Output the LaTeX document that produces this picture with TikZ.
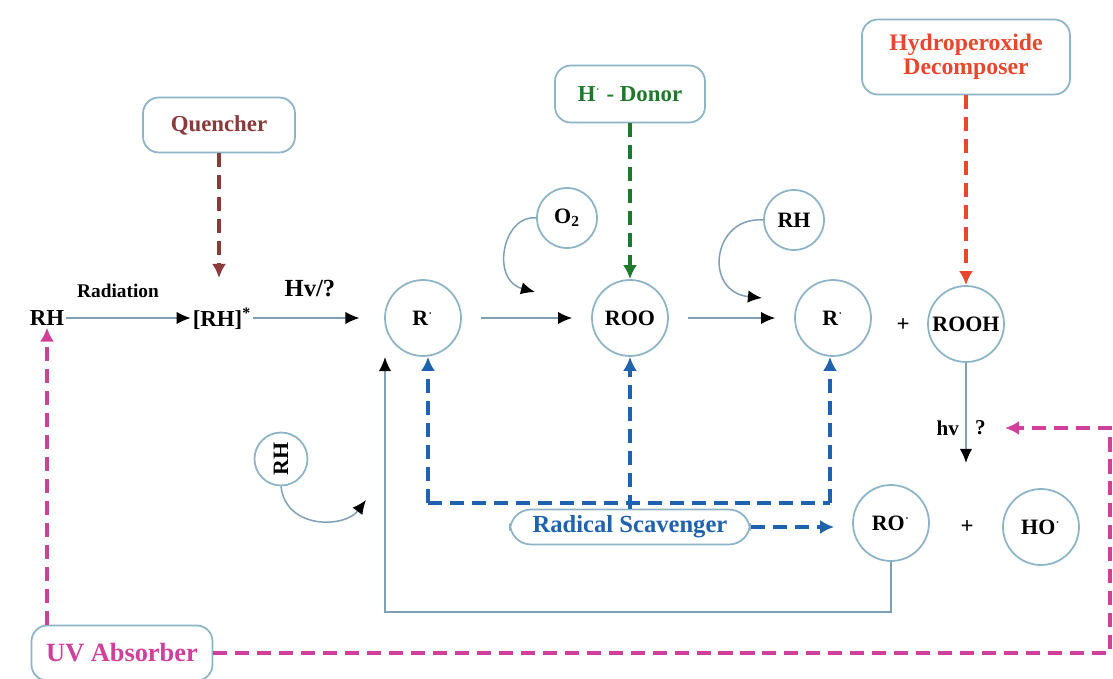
\documentclass[tikz,border=0pt]{standalone}
\usepackage{fontspec}
\setmainfont{Liberation Serif}
\usetikzlibrary{arrows.meta}
\definecolor{cercle}{HTML}{8DB3C7}
\definecolor{trait}{HTML}{7F9FB5}
\definecolor{brun}{HTML}{8A3A3A}
\definecolor{vert}{HTML}{1E7A2A}
\definecolor{rouge}{HTML}{E8472E}
\definecolor{bleu}{HTML}{1F62AE}
\definecolor{magenta}{HTML}{D0409A}
\newcommand{\rad}{\textsuperscript{$\cdot$}}
\newcommand{\taille}[1]{\fontsize{#1}{#1}\selectfont}

\begin{document}
\begin{tikzpicture}[x=0.02cm,y=-0.02cm,
	rond/.style={circle,draw=cercle,line width=1pt,minimum size=1.52cm,inner sep=0pt,font=\bfseries\taille{12.5}},
	petitrond/.style={rond,minimum size=1.2cm},
	boite/.style={draw=cercle,line width=1pt,rounded corners=9pt,inner sep=0pt,align=center,font=\bfseries\taille{13}},
	fleche/.style={draw=trait,line width=0.85pt,-{Latex[black,length=8pt,width=7pt]}},
	tirets/.style={line width=2pt,dash pattern=on 8pt off 4.5pt,-{Latex[length=8pt,width=8pt]}},
	texte/.style={font=\bfseries\taille{#1},inner sep=1pt}]
	\useasboundingbox (0,0) rectangle (1113,679);%cadre

	% especes chimiques
	\node[texte=13] (rh) at (47,318) {RH};
	\node[texte=13] (rhs) at (222,319) {[RH]\textsuperscript{*}};
	\node[rond] (r1) at (423,318) {R\rad};
	\node[rond] (roo) at (630,318) {ROO};
	\node[rond] (r2) at (833,318) {R\rad};
	\node[rond] (rooh) at (966,324) {ROOH};
	\node[petitrond] (o2) at (567,218) {O\textsubscript{2}};
	\node[petitrond] (rhh) at (794,220) {RH};
	\node[petitrond,minimum size=1.06cm,rotate=90] (rhb) at (281,459) {RH};
	\node[rond] (ro) at (891,523) {RO\rad};
	\node[rond] (ho) at (1041,527) {HO\rad};
	\node[texte=13] (plus1) at (903,325) {+};
	\node[texte=13] (plus2) at (967,527) {+};

	% etiquettes
	\node[texte=11] (radiation) at (118,291) {Radiation};
	\node[texte=14] (hv1) at (310,289) {Hv/?};
	\node[texte=12,anchor=east] (hv2) at (961,428) {hv};
	\node[texte=12,anchor=west] (qm) at (973,428) {?};

	% boites des additifs
	\node[boite,text=brun,minimum width=3.04cm,minimum height=1.1cm] (quencher) at (219,125) {Quencher};
	\node[boite,text=vert,minimum width=3cm,minimum height=1.14cm] (donor) at (630,94) {H\rad{} - Donor};
	\node[boite,text=rouge,minimum width=4.16cm,minimum height=1.5cm,font=\bfseries\taille{13.5}] (decomp) at (966,57) {Hydroperoxide\\Decomposer};
	\node[boite,text=bleu,minimum width=4.8cm,minimum height=0.7cm,rounded corners=12pt,font=\bfseries\taille{14}] (scav) at (630,527) {Radical Scavenger};
	\node[boite,text=magenta,minimum width=3.62cm,minimum height=1.1cm,font=\bfseries\taille{15}] (uv) at (122,653) {UV Absorber};

	% points de passage
	\coordinate (qfin) at (219,278);
	\coordinate (bg) at (428,503);
	\coordinate (bd) at (830,503);
	\coordinate (hvfin) at (966,463);
	\coordinate (rbas) at (385,612);
	\coordinate (rhaut) at (385,357);
	\coordinate (mcoin) at (1110,653);
	\coordinate (mhaut) at (1110,428);
	\coordinate (mfin) at (1005,428);

	% reactions
	\draw[fleche] (rh.east) -- (rh.east -| rhs.west);
	\draw[fleche,shorten >=14pt] (rhs.east |- r1) -- (r1.west);
	\draw[fleche,shorten <=0.38cm,shorten >=0.38cm] (r1) -- (roo);
	\draw[fleche,shorten <=0.38cm,shorten >=0.38cm] (roo) -- (r2);
	\draw[fleche] (rooh.south) -- (hvfin);
	\draw[fleche] (ro.south) |- (rbas) -- (rhaut);
	\draw[fleche] (o2.west) .. controls (503,214) and (490,280) .. (535,292);
	\draw[fleche] (rhh.west) .. controls (712,216) and (703,292) .. (762,298);
	\draw[fleche] (rhb.west) .. controls (286,530) and (345,528) .. (366,500);

	% actions des additifs
	\draw[tirets,brun] (quencher.south) -- (qfin);
	\draw[tirets,vert] (donor.south) -- (roo.north);
	\draw[tirets,rouge] (decomp.south) -- (rooh.north);
	\draw[tirets,bleu,-] (bg) -- (bd);
	\draw[tirets,bleu] (bg) -- (bg |- r1.south);
	\draw[tirets,bleu] (bd) -- (bd |- r2.south);
	\draw[tirets,bleu] (scav.north) -- (roo.south);
	\draw[tirets,bleu,shorten >=0.36cm] (scav.east) -- (scav.east -| ro.west);
	\draw[tirets,magenta] (uv.north -| rh) -- (rh.south);
	\draw[tirets,magenta] (uv.east) -- (mcoin) -- (mhaut) -- (mfin);
\end{tikzpicture}
\end{document}
